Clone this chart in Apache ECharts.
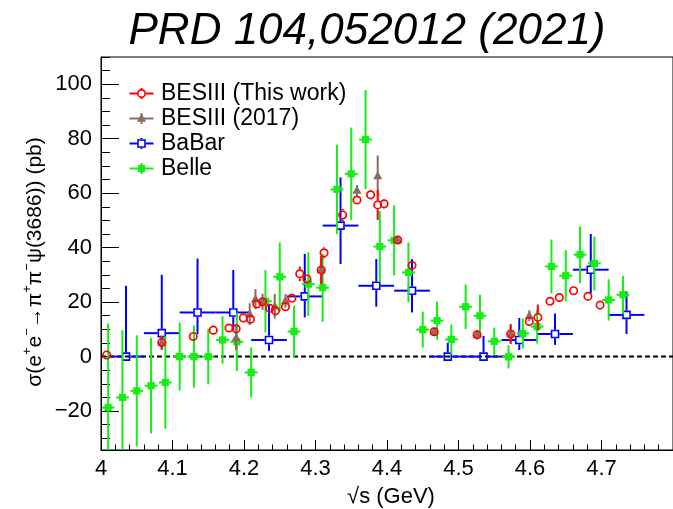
<!DOCTYPE html>
<html>
<head>
<meta charset="utf-8">
<script src="https://cdn.jsdelivr.net/npm/echarts@6/dist/echarts.min.js"></script>
<style>
  html, body { margin: 0; padding: 0; background: #ffffff; }
  #chart { width: 673px; height: 509px; }
</style>
</head>
<body>
<div id="chart"></div>
<script>
// e+e- -> pi+ pi- psi(3686) cross section versus centre-of-mass energy

// BESIII (this work): sqrt(s) in GeV, sigma in pb, symmetric error
const besEnergy = [4.008, 4.085, 4.129, 4.157, 4.179, 4.189, 4.199, 4.209, 4.218, 4.226,
                   4.236, 4.244, 4.258, 4.267, 4.278, 4.288, 4.308, 4.312, 4.338, 4.358,
                   4.377, 4.387, 4.396, 4.415, 4.435, 4.466, 4.526, 4.573, 4.599, 4.611,
                   4.628, 4.641, 4.661, 4.681, 4.698];
const besSigma = [0.6, 5.2, 7.4, 9.7, 10.5, 10.2, 14.2, 13.7, 19.3, 20.1,
                  17.7, 16.8, 18.3, 21.4, 30.4, 28.5, 31.8, 38.1, 52.0, 57.5,
                  59.4, 55.7, 56.1, 42.8, 33.5, 9.1, 8.0, 8.3, 12.9, 14.4,
                  20.3, 21.7, 24.2, 22.1, 18.9];
const besError = [1.5, 2.1, 1.5, 1.5, 1.5, 1.5, 1.5, 1.5, 1.5, 1.5,
                  1.5, 1.5, 1.5, 1.5, 2.7, 1.5, 5.2, 2.0, 2.2, 1.5,
                  1.8, 5.5, 1.8, 1.5, 1.5, 1.7, 1.8, 3.7, 1.5, 4.7,
                  1.2, 1.2, 1.2, 1.2, 1.2];

// BESIII (2017)
const bes17Energy = [4.085, 4.189, 4.208, 4.216, 4.226, 4.243, 4.258, 4.308, 4.358, 4.387,
                     4.415, 4.466, 4.526, 4.573, 4.599];
const bes17Sigma = [5.2, 6.8, 15.6, 21.1, 20.1, 18.5, 20.5, 31.8, 61.0, 66.3,
                    42.8, 9.1, 8.0, 8.3, 15.0];
const bes17Error = [2.5, 4.5, 4.0, 3.7, 3.0, 4.5, 2.5, 5.0, 2.0, 7.5,
                    1.5, 1.5, 1.5, 3.0, 2.0];

// BaBar: 50 MeV bins, asymmetric errors
const babarEnergy = [4.035, 4.085, 4.135, 4.185, 4.235, 4.285, 4.335, 4.385, 4.435, 4.485,
                     4.535, 4.585, 4.635, 4.685, 4.735];
const babarSigma = [0, 8.6, 16.2, 16.2, 6.1, 22.1, 48.1, 26.0, 24.2, 0,
                    0, 6.1, 8.3, 31.9, 15.3];
const babarErrLow = [0, 6.1, 7.9, 6.7, 4.0, 7.7, 14.1, 7.7, 8.0, 0,
                     0, 3.7, 4.0, 8.7, 7.0];
const babarErrHigh = [26.0, 21.4, 19.8, 15.6, 13.2, 15.6, 17.7, 9.8, 11.6, 5.0,
                      7.6, 8.1, 7.5, 13.1, 8.6];
const babarHalfBin = 0.025;

// Belle: 20 MeV bins
const belleEnergy = [4.01, 4.03, 4.05, 4.07, 4.09, 4.11, 4.13, 4.15, 4.17, 4.19,
                     4.21, 4.23, 4.25, 4.27, 4.29, 4.31, 4.33, 4.35, 4.37, 4.39,
                     4.41, 4.43, 4.45, 4.47, 4.49, 4.51, 4.53, 4.55, 4.57, 4.59,
                     4.61, 4.63, 4.65, 4.67, 4.69, 4.71, 4.73];
const belleSigma = [-18.7, -15.0, -12.6, -10.7, -9.5, 0, 0, 0, 6.1, 5.4,
                    -5.8, 20.3, 29.3, 9.2, 26.6, 25.3, 61.4, 67.1, 79.7, 40.4,
                    42.7, 30.9, 9.9, 13.2, 6.3, 18.3, 15.0, 5.6, -0.1, 8.5,
                    11.0, 33.1, 29.7, 37.4, 34.2, 20.8, 22.7];
const belleError = [30.9, 24.7, 20.4, 17.5, 17.0, 12.5, 11.4, 10.2, 8.7, 10.7,
                    9.2, 11.4, 12.6, 9.5, 11.7, 12.5, 16.4, 17.0, 18.2, 13.0,
                    12.9, 11.0, 6.6, 7.0, 5.5, 8.2, 7.7, 5.0, 4.3, 5.5,
                    6.2, 9.9, 9.4, 10.4, 9.9, 7.6, 7.0];
const belleHalfBin = 0.009;

// axis ranges and tick spacing
const xMin = 4.0, xMax = 4.8, xStep = 0.1;
const yMin = -34.3, yMax = 110, yMajor = 20, yMinor = 5;
const zeroLevel = 0;

const FONT = "'Liberation Sans', Arial, Helvetica, sans-serif";

// marker shapes, centred on a pixel position
const markerShapes = {
  openCircle: (c, color) => ({ type: 'circle', shape: { cx: c[0], cy: c[1], r: 3.7 },
    style: { fill: 'transparent', stroke: color, lineWidth: 1.7 } }),
  openSquare: (c, color) => ({ type: 'rect', shape: { x: c[0] - 3.5, y: c[1] - 3.5, width: 7, height: 7 },
    style: { fill: 'transparent', stroke: color, lineWidth: 1.6 } }),
  fullSquare: (c, color) => ({ type: 'rect', shape: { x: c[0] - 3.6, y: c[1] - 3.6, width: 7.2, height: 7.2 },
    style: { fill: color } }),
  fullTriangle: (c, color) => ({ type: 'polygon',
    shape: { points: [[c[0], c[1] - 5], [c[0] - 4.6, c[1] + 3.3], [c[0] + 4.6, c[1] + 3.3]] },
    style: { fill: color } })
};

const styles = {
  bes:   { name: 'BESIII (This work)', color: '#ff0000', marker: 'openCircle',   gap: 4.5, width: 2 },
  bes17: { name: 'BESIII (2017)',      color: '#8c6b60', marker: 'fullTriangle', gap: 0,   width: 2 },
  babar: { name: 'BaBar',              color: '#0000ff', marker: 'openSquare',   gap: 4.3, width: 2 },
  belle: { name: 'Belle',              color: '#14ee14', marker: 'fullSquare',   gap: 0,   width: 2 }
};

function seg(x1, y1, x2, y2, st) {
  return { type: 'line', shape: { x1: x1, y1: y1, x2: x2, y2: y2 },
           style: { stroke: st.color, lineWidth: st.width } };
}

// error-bar point: [x, y, errLow, errHigh, xHalfWidth]
function errorBarRenderer(st) {
  return function (params, api) {
    const x = api.value(0), y = api.value(1);
    const lo = api.value(2), hi = api.value(3), dx = api.value(4);
    const c = api.coord([x, y]);
    const top = api.coord([x, y + hi])[1];
    const bot = api.coord([x, y - lo])[1];
    const left = api.coord([x - dx, y])[0];
    const right = api.coord([x + dx, y])[0];
    const g = st.gap;
    const children = [];
    if (c[1] - top > g) children.push(seg(c[0], c[1] - g, c[0], top, st));
    if (bot - c[1] > g) children.push(seg(c[0], c[1] + g, c[0], bot, st));
    if (c[0] - left > g) children.push(seg(left, c[1], c[0] - g, c[1], st));
    if (right - c[0] > g) children.push(seg(c[0] + g, c[1], right, c[1], st));
    children.push(markerShapes[st.marker](c, st.color));
    return { type: 'group', children: children };
  };
}

function errorSeries(st, data, z) {
  return {
    type: 'custom', name: st.name, z: z, clip: true, silent: true,
    renderItem: errorBarRenderer(st),
    encode: { x: 0, y: 1 },
    data: data
  };
}

const besData = besEnergy.map((e, i) => [e, besSigma[i], besError[i], besError[i], 0]);
const bes17Data = bes17Energy.map((e, i) => [e, bes17Sigma[i], bes17Error[i], bes17Error[i], 0]);
const babarData = babarEnergy.map((e, i) => [e, babarSigma[i], babarErrLow[i], babarErrHigh[i], babarHalfBin]);
const belleData = belleEnergy.map((e, i) => [e, belleSigma[i], belleError[i], belleError[i], belleHalfBin]);

// legend rows, drawn with the same marker shapes
function legendEntry(row, st) {
  const cx = 141.5, cy = 93.5 + row * 25, g = st.gap;
  const children = [
    seg(129.5, cy, cx - g, cy, st), seg(cx + g, cy, 153.5, cy, st),
    seg(cx, cy - 5.5, cx, cy - g, st), seg(cx, cy + g, cx, cy + 5.5, st),
    markerShapes[st.marker]([cx, cy], st.color),
    { type: 'text', x: 161, y: cy + 0.5,
      style: { text: st.name, fill: '#000', font: '23px ' + FONT, align: 'left', verticalAlign: 'middle' } }
  ];
  return { type: 'group', children: children };
}

const minus = v => String(v).replace('-', '\u2212');

const chart = echarts.init(document.getElementById('chart'), null, { renderer: 'canvas' });
chart.setOption({
  animation: false,
  backgroundColor: '#ffffff',
  grid: { left: 101, right: -28, top: 57, bottom: 59, show: true,
          borderColor: '#000', borderWidth: 1, backgroundColor: 'transparent' },
  xAxis: {
    type: 'value', min: xMin, max: xMax, interval: xStep,
    axisLine: { show: true, onZero: false, lineStyle: { color: '#000', width: 1 } },
    axisTick: { show: true, inside: true, length: 10, lineStyle: { color: '#000', width: 1 } },
    minorTick: { show: true, splitNumber: 5, length: 5.5, lineStyle: { color: '#000', width: 1 } },
    splitLine: { show: false },
    axisLabel: { color: '#000', fontSize: 22, fontFamily: FONT, margin: 8,
                 showMaxLabel: false, formatter: v => minus(v) }
  },
  yAxis: [{
    type: 'value', min: yMin, max: yMax, minInterval: yMajor, maxInterval: yMajor,
    axisLine: { show: true, onZero: false, lineStyle: { color: '#000', width: 1 } },
    axisTick: { show: true, inside: true, length: 18, lineStyle: { color: '#000', width: 1 } },
    splitLine: { show: false },
    axisLabel: { color: '#000', fontSize: 22, fontFamily: FONT, margin: 9,
                 showMinLabel: false, showMaxLabel: false, formatter: v => minus(v) }
  }, {
    type: 'value', min: yMin, max: yMax, minInterval: yMinor, maxInterval: yMinor,
    position: 'left',
    axisLine: { show: false, onZero: false },
    axisTick: { show: true, inside: true, length: 9, lineStyle: { color: '#000', width: 1 } },
    splitLine: { show: false },
    axisLabel: { show: false }
  }],
  series: [
    {
      type: 'line', silent: true, z: 2, symbol: 'none',
      data: [[xMin, zeroLevel], [xMax, zeroLevel]],
      lineStyle: { color: '#000', width: 2, type: [5, 3] }
    },
    errorSeries(styles.babar, babarData, 3),
    errorSeries(styles.belle, belleData, 4),
    errorSeries(styles.bes17, bes17Data, 5),
    errorSeries(styles.bes, besData, 6)
  ],
  graphic: [
    { type: 'text', x: 367, y: 32,
      style: { text: 'PRD 104,052012 (2021)', fill: '#000', font: 'italic 44px ' + FONT,
               align: 'center', verticalAlign: 'middle' } },
    { type: 'text', x: 391, y: 497,
      style: { text: '\u221As (GeV)', fill: '#000', font: '22px ' + FONT,
               align: 'center', verticalAlign: 'middle' } },
    { type: 'text', x: 35, y: 262, rotation: Math.PI / 2,
      style: {
        text: '{n|\u03C3(e}{s|+}{n|e}{s|\u2212}{n|\u2192\u03C0}{s|+}{n|\u03C0}{s|\u2212}{n|\u03C8(3686)) (pb)}',
        align: 'center', verticalAlign: 'middle', fill: '#000',
        rich: {
          n: { fontSize: 21, fontFamily: FONT, lineHeight: 28, fill: '#000' },
          s: { fontSize: 13, fontFamily: FONT, lineHeight: 13, verticalAlign: 'top', fill: '#000' }
        }
      } },
    legendEntry(0, styles.bes),
    legendEntry(1, styles.bes17),
    legendEntry(2, styles.babar),
    legendEntry(3, styles.belle)
  ]
});
</script>
</body>
</html>
